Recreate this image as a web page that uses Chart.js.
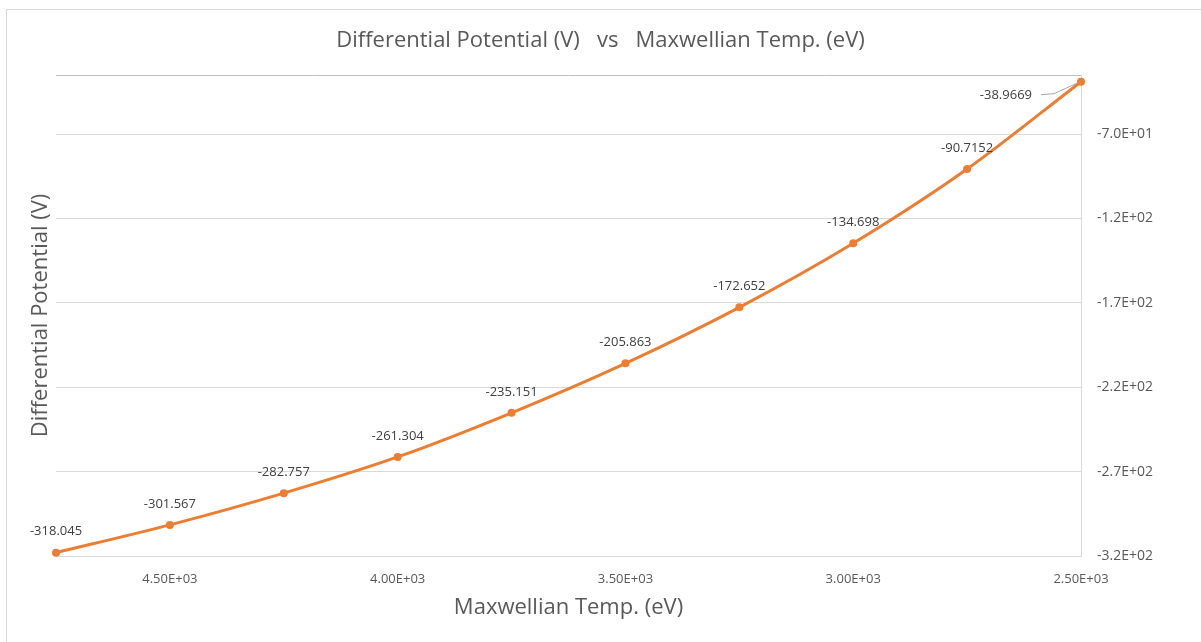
<!DOCTYPE html>
<html lang="en">
<head>
  <meta charset="UTF-8">
  <title>Differential Potential vs Maxwellian Temp.</title>
  <script src="https://cdn.jsdelivr.net/npm/chart.js"></script>
  <style>
    body {
      margin: 0;
      padding: 0;
      background: #fff;
      overflow: hidden;
    }

    .wrap {
      position: relative;
      width: 1201px;
      height: 642px;
    }

    .frame {
      position: absolute;
      left: 6px;
      top: 9px;
      width: 1300px;
      height: 700px;
      border-left: 1px solid #d9d9d9;
      border-top: 1px solid #d9d9d9;
    }

    canvas {
      position: absolute;
      left: 0;
      top: 0;
    }
  </style>
</head>
<body>
  <div class="wrap">
    <div class="frame"></div>
    <canvas id="chart" width="1201" height="642"></canvas>
  </div>

  <script>
    // Data
    const temps = [4750, 4500, 4250, 4000, 3750, 3500, 3250, 3000, 2750, 2500];
    const potentials = [-318.045, -301.567, -282.757, -261.304, -235.151, -205.863, -172.652, -134.698, -90.7152, -38.9669];
    const xTicks = [4500, 4000, 3500, 3000, 2500];
    const yTicks = [-320, -270, -220, -170, -120, -70, -35];

    const FONT = "'Open Sans', sans-serif";
    const ORANGE = '#ED7D31';

    // Excel-style "4.50E+03"
    function sci(v, digits) {
      const parts = v.toExponential(digits).split('e');
      const exp = parseInt(parts[1], 10);
      const sign = exp < 0 ? '-' : '+';
      return parts[0] + 'E' + sign + String(Math.abs(exp)).padStart(2, '0');
    }

    // Data labels above each point, last one to the left with a leader line
    const dataLabels = {
      id: 'dataLabels',
      afterDatasetsDraw(chart) {
        const ctx = chart.ctx;
        const meta = chart.getDatasetMeta(0);
        ctx.save();
        ctx.font = '13px ' + FONT;
        ctx.fillStyle = '#404040';
        ctx.textBaseline = 'middle';
        meta.data.forEach((pt, i) => {
          const text = String(potentials[i]);
          if (i === meta.data.length - 1) {
            ctx.textAlign = 'right';
            const tx = pt.x - 49;
            const ty = pt.y + 14;
            ctx.fillText(text, tx, ty);
            ctx.strokeStyle = '#a6a6a6';
            ctx.lineWidth = 1;
            ctx.beginPath();
            ctx.moveTo(tx + 9, ty - 1);
            ctx.lineTo(tx + 22, ty - 2);
            ctx.lineTo(pt.x - 3, pt.y + 1);
            ctx.stroke();
          } else {
            ctx.textAlign = 'center';
            ctx.fillText(text, pt.x, pt.y - 21);
          }
        });
        ctx.restore();
      }
    };

    const ctx = document.getElementById('chart').getContext('2d');
    const chart = new Chart(ctx, {
      type: 'line',
      data: {
        datasets: [{
          label: 'Differential Potential (V)',
          data: temps.map((t, i) => ({ x: t, y: potentials[i] })),
          borderColor: ORANGE,
          backgroundColor: ORANGE,
          borderWidth: 3,
          pointRadius: 4,
          pointBorderWidth: 0,
          tension: 0.3,
          clip: false
        }]
      },
      options: {
        responsive: false,
        animation: false,
        layout: { padding: 0 },
        plugins: {
          legend: { display: false },
          tooltip: { enabled: false },
          title: {
            display: true,
            text: 'Differential Potential (V)   vs   Maxwellian Temp. (eV)',
            color: '#595959',
            font: { family: FONT, size: 22, weight: 'normal' },
            padding: { top: 28, bottom: 20.6 }
          }
        },
        scales: {
          x: {
            type: 'linear',
            reverse: true,
            min: 2500,
            max: 4750,
            afterBuildTicks: (axis) => { axis.ticks = xTicks.map(v => ({ value: v })); },
            afterFit: (axis) => { axis.height = 86; },
            grid: { display: false, drawTicks: false },
            border: { display: false },
            ticks: {
              padding: 15,
              color: '#595959',
              font: { family: FONT, size: 13 },
              callback: (v) => sci(v, 2)
            },
            title: {
              display: true,
              text: 'Maxwellian Temp. (eV)',
              color: '#595959',
              font: { family: FONT, size: 22 },
              padding: { top: 0, bottom: 21 }
            }
          },
          y: {
            position: 'right',
            min: -320,
            max: -35,
            afterBuildTicks: (axis) => { axis.ticks = yTicks.map(v => ({ value: v })); },
            afterFit: (axis) => { axis.width = 120; },
            grid: {
              drawTicks: false,
              color: (c) => c.tick && c.tick.value === -35 ? '#bfbfbf' : '#d9d9d9',
              lineWidth: 1
            },
            border: { display: true, color: '#d9d9d9' },
            ticks: {
              padding: 16,
              color: '#595959',
              font: { family: FONT, size: 14 },
              callback: (v) => v === -35 ? '' : sci(v, 1)
            }
          },
          yTitle: {
            position: 'left',
            min: -320,
            max: -35,
            afterFit: (axis) => { axis.width = 56; },
            grid: { display: false, drawTicks: false },
            border: { display: false },
            ticks: { display: false },
            title: {
              display: true,
              text: 'Differential Potential (V)',
              color: '#595959',
              font: { family: FONT, size: 22 },
              padding: { top: 28, bottom: 0 }
            }
          }
        }
      },
      plugins: [dataLabels]
    });
  </script>
</body>
</html>
